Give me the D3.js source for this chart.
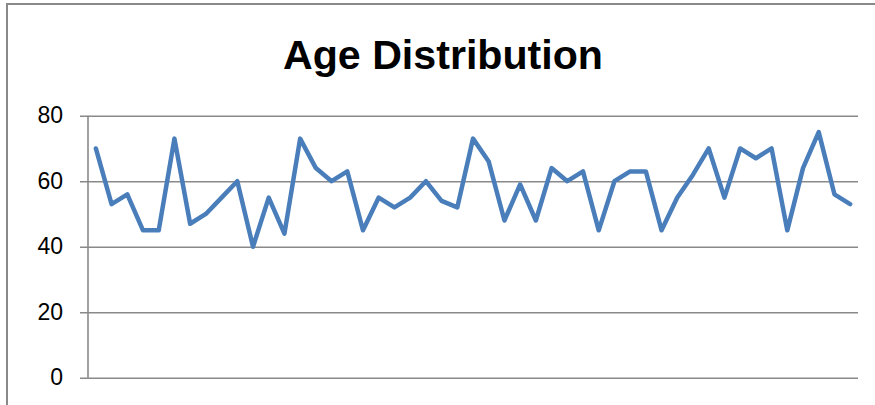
<!DOCTYPE html>
<html>
<head>
<meta charset="utf-8">
<script src="https://cdn.jsdelivr.net/npm/d3@7/dist/d3.min.js"></script>
<style>
  html, body { margin: 0; padding: 0; background: #fff; }
  svg { display: block; }
</style>
</head>
<body>
<svg id="chart" width="875" height="405"></svg>
<script>
// ---- data ----
const title = "Age Distribution";
const categories = d3.range(1, 50); // 49 records
const ages = [70, 53, 56, 45, 45, 73, 47, 50, 55, 60,
              40, 55, 44, 73, 64, 60, 63, 45, 55, 52,
              55, 60, 54, 52, 73, 66, 48, 59, 48, 64,
              60, 63, 45, 60, 63, 63, 45, 55, 62, 70,
              55, 70, 67, 70, 45, 64, 75, 56, 53];
const yTicks = [0, 20, 40, 60, 80];

// ---- layout ----
const svg = d3.select("#chart");
const plot = { left: 88, right: 858, top: 115.7, bottom: 377.7 };
const gridColor = "#898989";

// chart border (cropped at right/bottom in the reference)
svg.append("path")
  .attr("d", "M7,410 L7,4 L880,4")
  .attr("fill", "none")
  .attr("stroke", gridColor)
  .attr("stroke-width", 2);

const x = d3.scaleBand().domain(categories).range([plot.left, plot.right]);
const y = d3.scaleLinear().domain([0, 80]).range([plot.bottom, plot.top]);

// gridlines + y axis
const yAxis = d3.axisLeft(y)
  .tickValues(yTicks)
  .tickSize(-(plot.right - plot.left))
  .tickPadding(25)
  .tickSizeOuter(0);

const gy = svg.append("g")
  .attr("transform", `translate(${plot.left},0)`)
  .call(yAxis);
gy.select(".domain").remove();
gy.selectAll(".tick line")
  .attr("x1", -8)
  .attr("stroke", gridColor)
  .attr("stroke-width", 1.6);
gy.selectAll(".tick text")
  .attr("font-family", "Liberation Sans, Arial, sans-serif")
  .attr("font-size", 23)
  .attr("fill", "#000")
  .attr("dy", "0.3em");

// vertical axis line
svg.append("line")
  .attr("x1", plot.left).attr("x2", plot.left)
  .attr("y1", plot.top).attr("y2", plot.bottom)
  .attr("stroke", gridColor)
  .attr("stroke-width", 1.6);

// line series
const line = d3.line()
  .x((d, i) => x(categories[i]) + x.bandwidth() / 2)
  .y(d => y(d));

svg.append("path")
  .datum(ages)
  .attr("d", line)
  .attr("fill", "none")
  .attr("stroke", "#4A7EBB")
  .attr("stroke-width", 4.5)
  .attr("stroke-linejoin", "round")
  .attr("stroke-linecap", "round");

// title
svg.append("text")
  .attr("x", 443)
  .attr("y", 69)
  .attr("text-anchor", "middle")
  .attr("font-family", "Liberation Sans, Arial, sans-serif")
  .attr("font-weight", "bold")
  .attr("font-size", 41)
  .attr("textLength", 320)
  .attr("lengthAdjust", "spacingAndGlyphs")
  .attr("fill", "#000")
  .text(title);
</script>
</body>
</html>
